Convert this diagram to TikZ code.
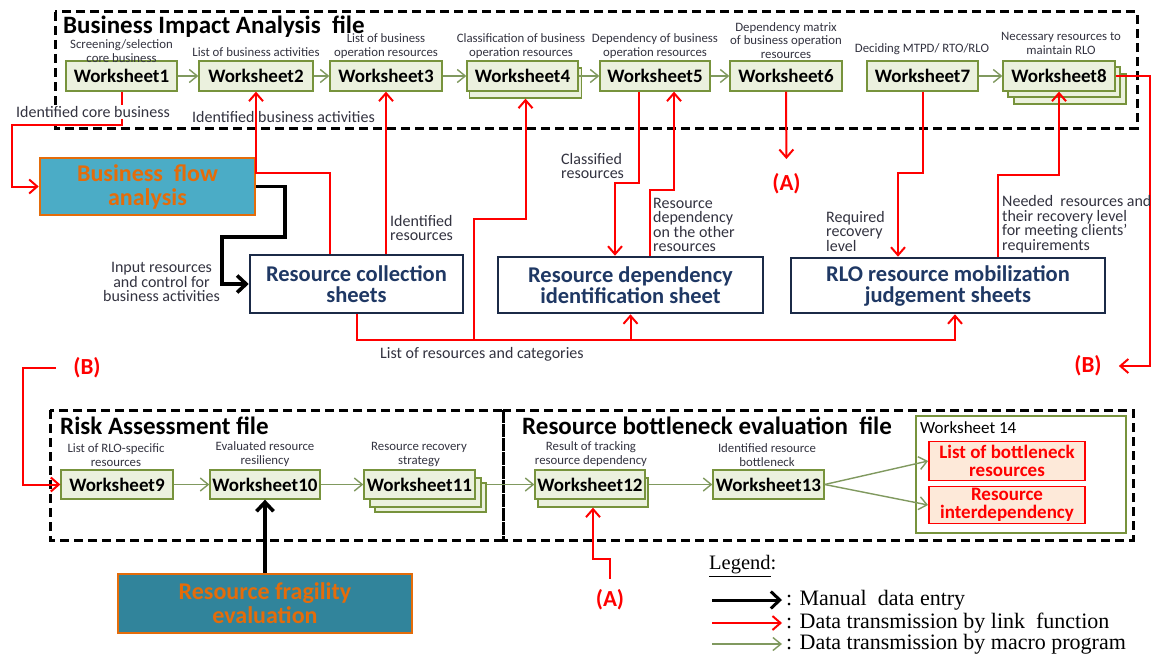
\documentclass[tikz,border=0pt]{standalone}
\usepackage{fontspec}
\setmainfont{Carlito}
\newfontfamily\legendfont{Liberation Serif}
\usetikzlibrary{arrows.meta}
\newcommand{\setfs}[2]{\fontsize{#1pt}{#2pt}\selectfont}

\definecolor{wsfill}{HTML}{EBF1DE}
\definecolor{wsline}{HTML}{77933C}
\definecolor{macro}{HTML}{80995F}
\definecolor{navyline}{HTML}{1B2A47}
\definecolor{navytext}{HTML}{1F3864}
\definecolor{flowfill}{HTML}{4BACC6}
\definecolor{fragfill}{HTML}{31849B}
\definecolor{orangeline}{HTML}{E46C0A}
\definecolor{peach}{HTML}{FDE9D9}
\definecolor{labeltext}{HTML}{333340}
\definecolor{linkred}{HTML}{FF0000}

\tikzset{
  wsbox/.style={draw=wsline, fill=wsfill, line width=1.3pt, minimum height=30pt,
    inner sep=0pt, font=\bfseries\setfs{19}{20}},
  wslabel/.style={anchor=south, inner sep=0pt, align=center, text=labeltext,
    font=\setfs{12.8}{13.8}},
  notelabel/.style={inner sep=0pt, align=left, text=labeltext, font=\setfs{16}{14.5}},
  sheetbox/.style={draw=navyline, line width=2.6pt, fill=white, text=navytext,
    align=center, inner sep=0pt, font=\bfseries\setfs{22.5}{21}},
  procbox/.style={draw=orangeline, line width=2.6pt, text=orangeline, align=center,
    inner sep=0pt, font=\bfseries\setfs{24}{24}},
  filebox/.style={draw=black, line width=3pt, dash pattern=on 9pt off 5pt},
  filetitle/.style={anchor=base west, inner sep=0pt, font=\bfseries\setfs{25}{25}},
  rlink/.style={draw=linkred, line width=2pt, -{Straight Barb[length=8pt,width=14pt]}},
  blink/.style={draw=black, line width=3.6pt, -{Straight Barb[length=9pt,width=17pt]}},
  glink/.style={draw=macro, line width=1.4pt, -{Straight Barb[length=8pt,width=13pt]}},
  tag/.style={text=linkred, inner sep=0pt, font=\bfseries\setfs{23}{23}},
  resultbox/.style={draw=linkred, line width=1.8pt, fill=peach, text=linkred, align=center,
    inner sep=0pt, minimum width=156pt, font=\bfseries\setfs{19}{17.5}},
  legendtext/.style={anchor=west, inner sep=0pt, font=\legendfont\setfs{22}{22}},
}

\begin{document}
\begin{tikzpicture}[x=1pt,y=-1pt]
\useasboundingbox (0,0) rectangle (1153,661);
\fill[white] (0,0) rectangle (1153,661);

% ---------- Business Impact Analysis file ----------
\draw[filebox] (55,12) rectangle (1137,128);
\node[filetitle] (biatitle) at (63,34) {Business Impact Analysis\ \ file};

\node[wsbox, minimum width=112pt] (ws4b) at (525.5,83) {};
\node[wsbox, minimum width=112pt] (ws8c) at (1070,89) {};
\node[wsbox, minimum width=112pt] (ws8b) at (1064,82) {};

\node[wsbox, minimum width=111pt] (ws1) at (121.5,76) {Worksheet1};
\node[wsbox, minimum width=114pt] (ws2) at (256,76) {Worksheet2};
\node[wsbox, minimum width=112pt] (ws3) at (386,76) {Worksheet3};
\node[wsbox, minimum width=111pt] (ws4) at (522.5,76) {Worksheet4};
\node[wsbox, minimum width=110pt] (ws5) at (655,76) {Worksheet5};
\node[wsbox, minimum width=112pt] (ws6) at (786,76) {Worksheet6};
\node[wsbox, minimum width=111pt] (ws7) at (922.5,76) {Worksheet7};
\node[wsbox, minimum width=112pt] (ws8) at (1059,76) {Worksheet8};

\node[wslabel] (l1) at (121.5,63) {Screening/selection\\core business};
\node[wslabel] (l2) at (256,57) {List of business activities};
\node[wslabel] (l3) at (386,59) {List of business\\operation resources};
\node[wslabel] (l4) at (521,59) {Classification of business\\operation resources};
\node[wslabel] (l5) at (655,59) {Dependency of business\\operation resources};
\node[wslabel] (l6) at (786,59) {Dependency matrix\\of business operation\\resources};
\node[wslabel] (l7) at (922,55) {Deciding MTPD/ RTO/RLO};
\node[wslabel] (l8) at (1061,55) {Necessary resources to\\maintain RLO};

\draw[glink] (ws1) -- (ws2);
\draw[glink] (ws2) -- (ws3);
\draw[glink] (ws3) -- (ws4);
\draw[glink] (ws4) -- (ws5);
\draw[glink] (ws5) -- (ws6);
\draw[glink] (ws7) -- (ws8);

% ---------- sheets and processes ----------
\node[procbox, fill=flowfill, minimum width=215pt, minimum height=57pt] (bf) at (147.5,186.5)
  {Business\ \ flow\\analysis};
\node[sheetbox, minimum width=213pt, minimum height=58pt] (rc) at (356.5,284)
  {Resource collection\\sheets};
\node[sheetbox, minimum width=265pt, minimum height=56pt] (rd) at (630.5,285)
  {Resource dependency\\identification sheet};
\node[sheetbox, minimum width=314pt, minimum height=55pt] (rlo) at (948,285.5)
  {RLO resource mobilization\\judgement sheets};

\node[tag] (atop) at (786.5,183.5) {(A)};
\node[tag] (bright) at (1088,366) {(B)};
\node[tag] (bleft) at (87,368) {(B)};
\node[tag] (abot) at (610,600) {(A)};

% ---------- Risk Assessment / bottleneck files ----------
\draw[filebox] (50,410) rectangle (503,540);
\draw[filebox] (503,410) rectangle (1133,540);
\node[filetitle] (ratitle) at (60,434) {Risk Assessment file};
\node[filetitle] (rbtitle) at (522,434) {Resource bottleneck evaluation\ \ file};

\node[wsbox, minimum width=111pt, minimum height=29pt] (ws11c) at (430.5,497.5) {};
\node[wsbox, minimum width=111pt, minimum height=29pt] (ws11b) at (425.5,492.5) {};
\node[wsbox, minimum width=110pt, minimum height=29pt] (ws12b) at (593,492.5) {};

\node[wsbox, minimum width=112pt, minimum height=29pt] (ws9) at (117,484.5) {Worksheet9};
\node[wsbox, minimum width=110pt, minimum height=29pt] (ws10) at (265,484.5) {Worksheet10};
\node[wsbox, minimum width=111pt, minimum height=29pt] (ws11) at (419.5,484.5) {Worksheet11};
\node[wsbox, minimum width=110pt, minimum height=29pt] (ws12) at (590,484.5) {Worksheet12};
\node[wsbox, minimum width=111pt, minimum height=29pt] (ws13) at (768.5,484.5) {Worksheet13};

\node[wslabel] (l9) at (116,467) {List of RLO-specific\\resources};
\node[wslabel] (l10) at (265,467) {Evaluated resource\\resiliency};
\node[wslabel] (l11) at (419,467) {Resource recovery\\strategy};
\node[wslabel] (l12) at (591,467) {Result of tracking\\resource dependency};
\node[wslabel] (l13) at (767,467) {Identified resource\\bottleneck};

\node[draw=wsline, line width=1.2pt, minimum width=210pt, minimum height=117pt] (ws14) at (1021,474.5) {};
\node[anchor=west, inner sep=0pt, font=\setfs{17}{17}] (ws14t) at (920,428) {Worksheet 14};
\node[resultbox, minimum height=39pt] (lbr) at (1007,461) {List of bottleneck\\resources};
\node[resultbox, minimum height=37pt] (rid) at (1007,505) {Resource\\interdependency};

\node[procbox, fill=fragfill, minimum width=294pt, minimum height=59pt] (rf) at (265,603.5)
  {Resource fragility\\evaluation};

\draw[glink] (ws9) -- (ws10);
\draw[glink] (ws10) -- (ws11);
\draw[glink] (ws11c.east |- ws11.east) -- (ws12);
\draw[glink] (ws12b.east |- ws12.east) -- (ws13);
\draw[glink] (ws13.east) -- (lbr.west);
\draw[glink] (ws13.east) -- (rid.west);

% ---------- link-function connectors ----------
\draw[rlink] (ws1.south) |- (12,125) |- (bf.west);
\draw[rlink] (rc.north -| 330,0) |- (ws2.south |- 0,173) -- (ws2.south);
\draw[rlink] (rc.north -| ws3.south) -- (ws3.south);

\coordinate (busL) at (rc.south |- 0,340);
\coordinate (busR) at (955,340);
\coordinate (busJ) at (474,340);
\draw[rlink] (rc.south) -- (busL) -- (busR) -- (busR |- rlo.south);
\draw[rlink] (rd.south |- busL) -- (rd.south);
\draw[rlink] (busJ) |- (ws4b.south |- 0,219) -- (ws4b.south);

\draw[rlink] ([xshift=-16pt]ws5.south) |- (615,183) -- (rd.north -| 615,0);
\draw[rlink] (rd.north -| 650,0) |- (674,190) -- ([xshift=19pt]ws5.south);
\draw[rlink, shorten >=14pt] (ws6.south) -- (atop.north);
\draw[rlink] (ws7.south) |- (898,173) -- (rlo.north -| 898,0);
\draw[rlink] (rlo.north -| 998,0) |- (ws8.south |- 0,175) -- (ws8.south);
\draw[rlink, shorten >=17pt] (ws8.east) -| (1150,366) -- (bright.east);
\draw[rlink, shorten <=17pt] (bleft.west) -| (23,484.5) -- (ws9.west);
\draw[rlink, shorten <=11pt] (abot.north) |- (ws12b.south |- 0,559) -- (ws12b.south);

% ---------- manual entry connectors ----------
\draw[blink] (bf.east) -| (285,237) -- (222,237) |- (rc.west);
\draw[blink] (rf.north -| ws10.south) -- (ws10.south);

% ---------- connector notes ----------
\node[notelabel, fill=white, inner sep=1.5pt] (nicb) at (93,112) {Identified core business};
\node[notelabel, anchor=west] (niba) at (192,117) {Identified business activities};
\node[notelabel, anchor=west] (nir) at (390,228) {Identified\\resources};
\node[notelabel, anchor=west] (ncr) at (561,166) {Classified\\resources};
\node[notelabel, anchor=west] (nrd) at (653,225) {Resource\\dependency\\on the other\\resources};
\node[notelabel, anchor=west] (nrr) at (826,231) {Required\\recovery\\level};
\node[notelabel, anchor=west] (nnr) at (1002,224)
  {Needed\ \ resources and\\their recovery level\\for meeting clients'\\requirements};
\node[notelabel, align=center] (nin) at (161.5,282) {Input resources\\and control for\\business activities};
\node[notelabel, anchor=west] (nlr) at (380,354) {List of resources and categories};

% ---------- legend ----------
\node[anchor=west, inner sep=0pt, font=\legendfont\setfs{20.5}{20.5}] (lgt) at (709,566) {\underline{Legend}:};
\coordinate (lg1a) at (712,600); \coordinate (lg1b) at (782,600);
\coordinate (lg2a) at (712,623); \coordinate (lg2b) at (782,623);
\coordinate (lg3a) at (712,644); \coordinate (lg3b) at (782,644);
\draw[blink, line width=3pt] (lg1a) -- (lg1b);
\draw[rlink] (lg2a) -- (lg2b);
\draw[glink] (lg3a) -- (lg3b);
\node[legendtext] (lgm) at (786,600) {: Manual\ \ data entry};
\node[legendtext] (lgl) at (786,623) {: Data transmission by link\ \ function};
\node[legendtext] (lgp) at (786,644) {: Data transmission by macro program};
\end{tikzpicture}
\end{document}
